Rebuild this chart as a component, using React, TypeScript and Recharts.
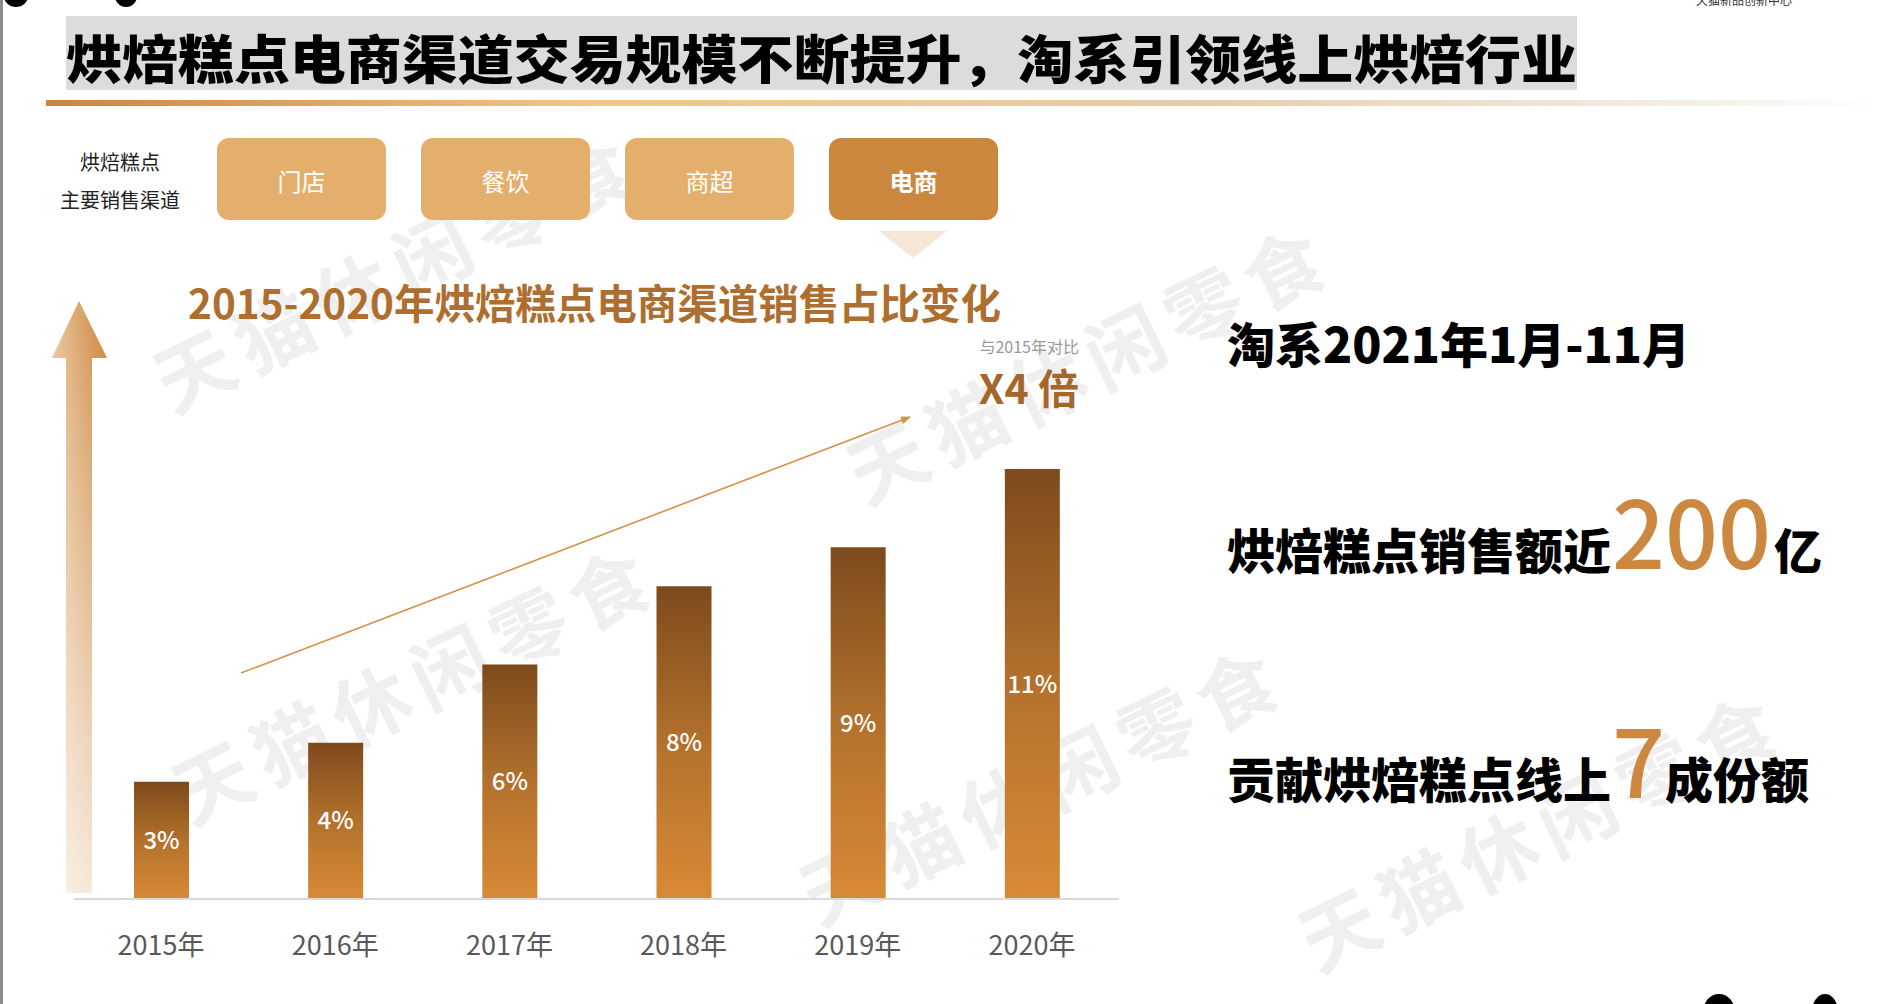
import React from "react";
import { BarChart, Bar, XAxis, YAxis, LabelList } from "recharts";

// 2015-2020 e-commerce share of baked goods sales (%)
const years = ["2015年", "2016年", "2017年", "2018年", "2019年", "2020年"];
const shares = [3, 4, 6, 8, 9, 11];
const channels = ["门店", "餐饮", "商超", "电商"];
const watermarkCenters = [
  [395, 268],
  [413, 680],
  [1088, 360],
  [1041, 781],
  [1540, 827],
];

const data = years.map((year, i) => ({ year, share: shares[i] }));

const FONT = "'Noto Sans CJK SC', 'Noto Sans', sans-serif";

const YearTick = (props: any) => {
  const { x, y, payload } = props;
  return (
    <text x={x} y={y + 54} textAnchor="middle" fill="#595959" fontSize={27} fontFamily={FONT}>
      {payload.value}
    </text>
  );
};

const Backdrop = () => (
  <svg width={1880} height={1004} style={{ position: "absolute", left: 0, top: 0 }}>
    <defs>
      <linearGradient id="ruleGrad" x1="0" y1="0" x2="1" y2="0">
        <stop offset="0%" stopColor="#CB853E" />
        <stop offset="30%" stopColor="#F1C788" />
        <stop offset="62%" stopColor="#E6CBA8" />
        <stop offset="88%" stopColor="#F3ECE4" />
        <stop offset="100%" stopColor="#FFFFFF" />
      </linearGradient>
      <linearGradient id="arrowH" x1="0" y1="0" x2="1" y2="0">
        <stop offset="0%" stopColor="#EAC59C" />
        <stop offset="100%" stopColor="#CB843A" />
      </linearGradient>
      <linearGradient id="arrowV" x1="0" y1="0" x2="0" y2="1">
        <stop offset="0%" stopColor="#FFFFFF" stopOpacity={0} />
        <stop offset="100%" stopColor="#FFFFFF" stopOpacity={0.78} />
      </linearGradient>
      <marker id="tip" markerWidth="10" markerHeight="8" refX="9" refY="4" orient="auto" markerUnits="userSpaceOnUse">
        <path d="M0,0 L10,4 L0,8 Z" fill="#D4914A" />
      </marker>
    </defs>

    {/* edges */}
    <rect x={0} y={0} width={3} height={1004} fill="#8c8c8c" />
    <ellipse cx={16} cy={-4} rx={12} ry={11} fill="#000" />
    <ellipse cx={126} cy={-4} rx={11} ry={11} fill="#000" />
    <ellipse cx={1719} cy={1012} rx={16} ry={18} fill="#000" />
    <ellipse cx={1825} cy={1012} rx={13} ry={18} fill="#000" />
    <text x={1696} y={5} fontSize={12} fill="#333" fontFamily={FONT}>天猫新品创新中心</text>

    {/* watermarks */}
    {watermarkCenters.map(([cx, cy], i) => (
      <text
        key={i}
        x={cx}
        y={cy}
        textAnchor="middle"
        dominantBaseline="central"
        fontSize={78}
        fontWeight={700}
        letterSpacing={10}
        fill="#EFEFEF"
        fontFamily={FONT}
        transform={`rotate(-26 ${cx} ${cy})`}
      >
        天猫休闲零食
      </text>
    ))}

    {/* title */}
    <rect x={66} y={16} width={1511} height={74} fill="#DCDCDC" />
    <text x={66} y={56} dominantBaseline="central" fontSize={52} fontWeight={900} fill="#000" fontFamily={FONT} textLength={1511} lengthAdjust="spacingAndGlyphs">
      烘焙糕点电商渠道交易规模不断提升，淘系引领线上烘焙行业
    </text>
    <rect x={46} y={100} width={1834} height={6} fill="url(#ruleGrad)" />

    {/* channels */}
    <text x={120} y={161} textAnchor="middle" dominantBaseline="central" fontSize={20} fill="#222" fontFamily={FONT}>烘焙糕点</text>
    <text x={120} y={199} textAnchor="middle" dominantBaseline="central" fontSize={20} fill="#222" fontFamily={FONT}>主要销售渠道</text>
    {channels.map((c, i) => {
      const x = 217 + i * 204;
      const active = i === channels.length - 1;
      return (
        <g key={c}>
          <rect x={x} y={138} width={169} height={82} rx={12} fill={active ? "#CC873E" : "#E4AF6C"} />
          <text x={x + 84.5} y={180} textAnchor="middle" dominantBaseline="central" fontSize={24} fontWeight={active ? 700 : 400} fill="#fff" fontFamily={FONT}>
            {c}
          </text>
        </g>
      );
    })}
    <polygon points="879,231 947,231 913,258" fill="#F6E7D6" />

    {/* chart heading */}
    <text x={188} y={301} dominantBaseline="central" fontSize={41} fontWeight={700} fill="#AE6E30" fontFamily={FONT} textLength={813} lengthAdjust="spacingAndGlyphs">
      2015-2020年烘焙糕点电商渠道销售占比变化
    </text>
    <text x={1079} y={346} textAnchor="end" dominantBaseline="central" fontSize={16} fill="#999" fontFamily={FONT}>与2015年对比</text>
    <text x={1079} y={386} textAnchor="end" dominantBaseline="central" fontSize={41} fontWeight={700} fill="#A3672B" fontFamily={FONT}>X4 倍</text>

    {/* growth arrows */}
    <polygon points="79,301 107,358 92,358 92,893 66,893 66,358 52,358" fill="url(#arrowH)" />
    <polygon points="79,301 107,358 92,358 92,893 66,893 66,358 52,358" fill="url(#arrowV)" />
    <line x1={241} y1={673} x2={910} y2={417} stroke="#D4914A" strokeWidth={1.6} markerEnd="url(#tip)" />

    {/* right side summary */}
    <text x={1227} y={363} fontSize={48} fontWeight={900} fill="#000" fontFamily={FONT}>淘系2021年1月-11月</text>
    <text x={1227} y={569} fontSize={48} fontWeight={900} fill="#000" fontFamily={FONT}>
      烘焙糕点销售额近
      <tspan fontSize={93} fontWeight={500} fill="#CC8840" dx={1}>200</tspan>
      <tspan dx={3}>亿</tspan>
    </text>
    <text x={1227} y={798} fontSize={48} fontWeight={900} fill="#000" fontFamily={FONT}>
      贡献烘焙糕点线上
      <tspan fontSize={93} fontWeight={500} fill="#CC8840" dx={1}>7</tspan>
      <tspan dx={0}>成份额</tspan>
    </text>
  </svg>
);

export default function App() {
  return (
    <div
      style={{
        position: "absolute",
        left: 0,
        top: 0,
        width: 1880,
        height: 1004,
        background: "#fff",
        overflow: "hidden",
        fontFamily: FONT,
      }}
    >
      <Backdrop />
      <div style={{ position: "absolute", left: 74, top: 440 }}>
        <BarChart width={1045} height={529} data={data} margin={{ top: 29, right: 0, bottom: 0, left: 0 }} barSize={55}>
          <defs>
            <linearGradient id="barGrad" x1="0" y1="0" x2="0" y2="1">
              <stop offset="0%" stopColor="#7D4A1C" />
              <stop offset="50%" stopColor="#B3712C" />
              <stop offset="100%" stopColor="#D88A36" />
            </linearGradient>
          </defs>
          <XAxis
            dataKey="year"
            height={70}
            interval={0}
            tickLine={false}
            tickSize={0}
            axisLine={{ stroke: "#D9D9D9", strokeWidth: 2 }}
            tick={<YearTick />}
          />
          <YAxis hide width={0} domain={[0, 11]} />
          <Bar dataKey="share" fill="url(#barGrad)" isAnimationActive={false}>
            <LabelList
              dataKey="share"
              position="center"
              formatter={(v: any) => `${v}%`}
              fill="#FFFFFF"
              fontSize={24}
              fontWeight={500}
              fontFamily={FONT}
            />
          </Bar>
        </BarChart>
      </div>
    </div>
  );
}
